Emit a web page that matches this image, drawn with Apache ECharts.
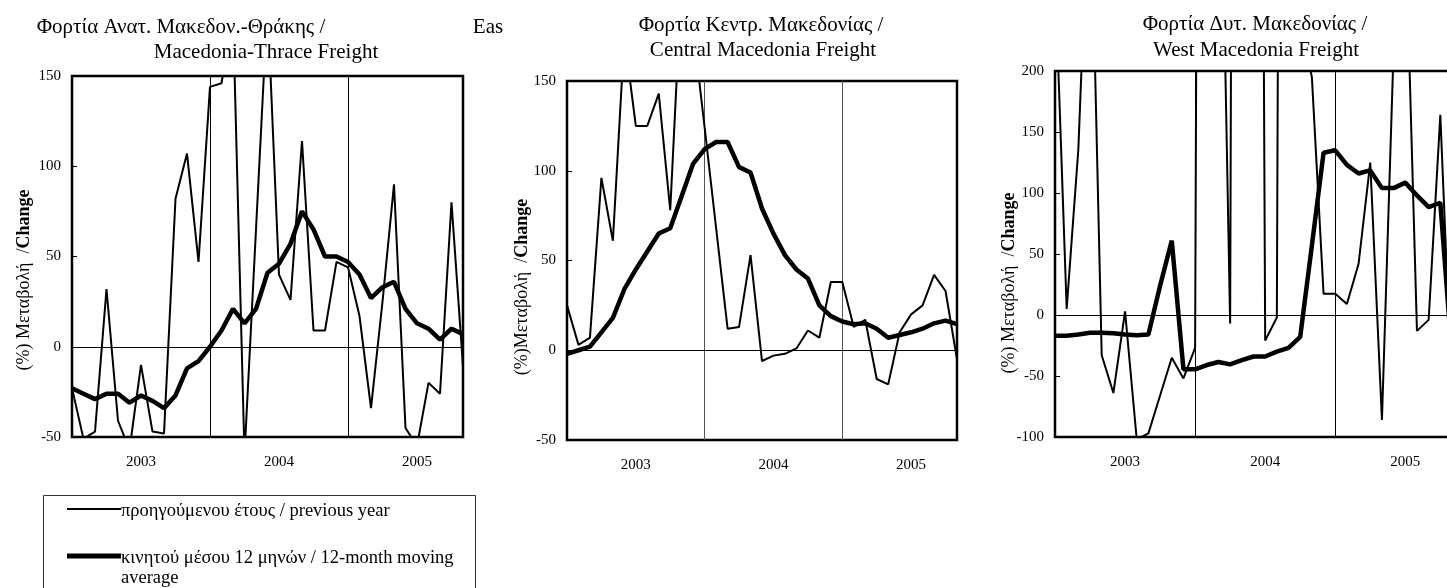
<!DOCTYPE html>
<html>
<head>
<meta charset="utf-8">
<script src="https://cdn.jsdelivr.net/npm/echarts@6/dist/echarts.min.js"></script>
<style>
  html, body { margin: 0; padding: 0; background: #fff; overflow: hidden; }
  /* the last panel runs a few pixels past the right edge, as in the source */
  #chart { width: 1460px; height: 588px; }
</style>
</head>
<body>
<div id="chart"></div>
<script>
// months on the category axis
const months = [
  '2003-01', '2003-02', '2003-03', '2003-04', '2003-05', '2003-06', '2003-07', '2003-08', '2003-09', '2003-10', '2003-11', '2003-12',
  '2004-01', '2004-02', '2004-03', '2004-04', '2004-05', '2004-06', '2004-07', '2004-08', '2004-09', '2004-10', '2004-11', '2004-12',
  '2005-01', '2005-02', '2005-03', '2005-04', '2005-05', '2005-06', '2005-07', '2005-08', '2005-09', '2005-10', '2005-11'
];

// Ανατ. Μακεδονία-Θράκη
const thraceYoY = [-23, -51, -47, 32, -41, -57, -10, -47, -48, 82, 107, 47, 144, 146, 185, -60, 65, 190, 40, 26, 114, 9, 9, 47, 44, 17, -34, 25, 90, -45, -55, -20, -26, 80, -11];
const thraceMA = [-23, -26, -29, -26, -26, -31, -27, -30, -34, -27, -12, -8, 0, 9, 21, 13, 21, 41, 46, 57, 75, 65, 50, 50, 47, 40, 27, 33, 36, 21, 13, 10, 4, 10, 7];

// Κεντρ. Μακεδονία
const centralYoY = [25, 3, 7, 96, 61, 175, 125, 125, 143, 78, 208, 179, 124, 68, 12, 13, 53, -6, -3, -2, 1, 11, 7, 38, 38, 13, 17, -16, -19, 10, 20, 25, 42, 33, -5];
const centralMA = [-2, 0, 2, 10, 18, 34, 45, 55, 65, 68, 86, 104, 112, 116, 116, 102, 99, 79, 65, 53, 45, 40, 25, 19, 16, 14.5, 15, 12, 7, 8.5, 10, 12, 15, 16.5, 14.5];

// Δυτ. Μακεδονία
const westYoY = [280, 5, 136, 380, -33, -64, 3, -102, -97, -66, -35, -52, -27, 2500, 500, -7, 3000, 2000, -21, -2, 2500, 240, 195, 17.5, 17.5, 9, 42, 125, -86, 218, 325, -13, -4, 164, -68];
const westMA = [-17, -17, -16, -14.5, -14.5, -15, -16, -16.5, -16, 24, 61, -44.5, -44.5, -41, -38.5, -40.5, -37, -34, -34, -30, -27, -18, 57, 133, 135, 123, 116, 118.5, 104, 104, 108.5, 98, 88.5, 92, -34];

// y axis ranges [min, max, interval]
const yRange1 = [-50, 150, 50];
const yRange2 = [-50, 150, 50];
const yRange3 = [-100, 200, 50];

const serif = 'Liberation Serif';
const chart = echarts.init(document.getElementById('chart'));

const grids = [
  { left: 72, top: 76, width: 391, height: 361 },
  { left: 567, top: 81, width: 390, height: 359 },
  { left: 1055, top: 71, width: 397, height: 366 }
];

function xAx(i, gridColor) {
  return {
    type: 'category', gridIndex: i, data: months, boundaryGap: false,
    axisLine: { show: false },
    axisTick: { show: false },
    axisLabel: {
      interval: (idx) => idx % 12 === 6,
      formatter: (v) => v.slice(0, 4),
      margin: 18, color: '#000', fontFamily: serif, fontSize: 15
    },
    splitLine: {
      show: true,
      interval: (idx) => idx === 12 || idx === 24,
      lineStyle: { color: gridColor, width: 1 }
    }
  };
}

function yAx(i, r) {
  return {
    type: 'value', gridIndex: i, min: r[0], max: r[1], interval: r[2],
    axisLine: { show: false },
    axisTick: { show: true, inside: true, length: 5, lineStyle: { color: '#000', width: 1 } },
    axisLabel: { margin: 11, color: '#000', fontFamily: serif, fontSize: 15 },
    splitLine: { show: false }
  };
}

function thin(i, data) {
  return {
    type: 'line', xAxisIndex: i, yAxisIndex: i, data: data, symbol: 'none',
    lineStyle: { color: '#000', width: 2 }, clip: true,
    markLine: {
      silent: true, symbol: 'none', label: { show: false },
      lineStyle: { color: '#000', width: 1, type: 'solid' },
      data: [{ yAxis: 0 }]
    }
  };
}

function thick(i, data) {
  return {
    type: 'line', xAxisIndex: i, yAxisIndex: i, data: data, symbol: 'none',
    lineStyle: { color: '#000', width: 4.5 }, clip: true
  };
}

function txt(x, y, s, size, align) {
  return {
    type: 'text', x: x, y: y, silent: true,
    style: { text: s, fontFamily: serif, fontSize: size, fill: '#000', align: align || 'center', verticalAlign: 'middle' }
  };
}

function yName(x, y, s) {
  return {
    type: 'text', x: x, y: y, rotation: Math.PI / 2, silent: true,
    style: {
      text: '{a|' + s + '}{b|Change}',
      align: 'center', verticalAlign: 'middle',
      rich: {
        a: { fontFamily: serif, fontSize: 18, fill: '#000' },
        b: { fontFamily: serif, fontSize: 18, fontWeight: 'bold', fill: '#000' }
      }
    }
  };
}

const option = {
  backgroundColor: '#fff',
  animation: false,
  grid: grids.map(g => Object.assign({ show: true, borderColor: '#000', borderWidth: 2.5, backgroundColor: 'transparent' }, g)),
  xAxis: [xAx(0, '#000'), xAx(1, '#555'), xAx(2, '#000')],
  yAxis: [yAx(0, yRange1), yAx(1, yRange2), yAx(2, yRange3)],
  series: [
    thin(0, thraceYoY), thick(0, thraceMA),
    thin(1, centralYoY), thick(1, centralMA),
    thin(2, westYoY), thick(2, westMA)
  ],
  graphic: [
    txt(181, 27, 'Φορτία Ανατ. Μακεδον.-Θράκης /', 21),
    txt(266, 52, 'Macedonia-Thrace Freight', 21),
    txt(488, 27, 'Eas', 21),
    txt(761, 25, 'Φορτία Κεντρ. Μακεδονίας /', 21),
    txt(763, 50, 'Central Macedonia Freight', 21),
    txt(1255, 24, 'Φορτία Δυτ. Μακεδονίας /', 21),
    txt(1256, 50, 'West Macedonia Freight', 21),
    yName(24, 280, '(%) Μεταβολή  /'),
    yName(522, 287, '(%)Μεταβολή  /'),
    yName(1009, 283, '(%) Μεταβολή  /'),
    // legend box
    { type: 'rect', silent: true, shape: { x: 43.5, y: 495.5, width: 432, height: 120 }, style: { fill: 'none', stroke: '#333', lineWidth: 1 } },
    { type: 'line', silent: true, shape: { x1: 67, y1: 509, x2: 121, y2: 509 }, style: { stroke: '#000', lineWidth: 2 } },
    { type: 'line', silent: true, shape: { x1: 67, y1: 556, x2: 121, y2: 556 }, style: { stroke: '#000', lineWidth: 5 } },
    txt(121, 511, 'προηγούμενου έτους / previous year', 18.5, 'left'),
    txt(121, 558, 'κινητού μέσου 12 μηνών / 12-month moving', 18.5, 'left'),
    txt(121, 578, 'average', 18.5, 'left')
  ]
};

chart.setOption(option);
</script>
</body>
</html>
